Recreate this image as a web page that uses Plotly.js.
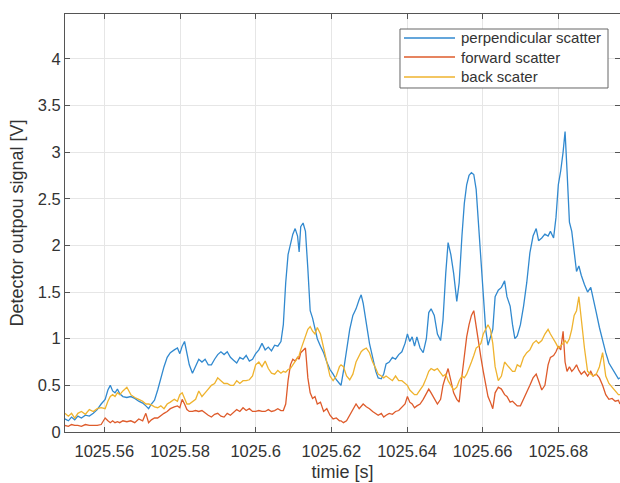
<!DOCTYPE html>
<html>
<head>
<meta charset="utf-8">
<script src="https://cdn.plot.ly/plotly-3.0.1.min.js"></script>
<style>html,body{margin:0;padding:0;background:#fff;}#chart{width:620px;height:483px;}</style>
</head>
<body>
<div id="chart"></div>
<script>
// time samples [s]
const time = [
1025.54956, 1025.55050, 1025.55133, 1025.55217, 1025.55300, 1025.55394, 1025.55499, 1025.55603, 1025.55708, 1025.55812,
1025.55916, 1025.56021, 1025.56094, 1025.56157, 1025.56219, 1025.56282, 1025.56345, 1025.56407, 1025.56491, 1025.56595,
1025.56700, 1025.56804, 1025.56909, 1025.57013, 1025.57097, 1025.57170, 1025.57243, 1025.57326, 1025.57410, 1025.57493,
1025.57577, 1025.57661, 1025.57744, 1025.57849, 1025.57932, 1025.57995, 1025.58057, 1025.58120, 1025.58183, 1025.58245,
1025.58329, 1025.58413, 1025.58496, 1025.58580, 1025.58663, 1025.58747, 1025.58830, 1025.58914, 1025.58997, 1025.59081,
1025.59165, 1025.59248, 1025.59332, 1025.59415, 1025.59499, 1025.59582, 1025.59666, 1025.59749, 1025.59833, 1025.59917,
1025.60000, 1025.60084, 1025.60167, 1025.60251, 1025.60334, 1025.60418, 1025.60501, 1025.60585, 1025.60668, 1025.60731,
1025.60794, 1025.60856, 1025.60919, 1025.60982, 1025.61044, 1025.61107, 1025.61149, 1025.61191, 1025.61253, 1025.61316,
1025.61379, 1025.61441, 1025.61504, 1025.61567, 1025.61629, 1025.61713, 1025.61796, 1025.61880, 1025.61964, 1025.62047,
1025.62131, 1025.62214, 1025.62256, 1025.62319, 1025.62402, 1025.62486, 1025.62569, 1025.62653, 1025.62736, 1025.62789,
1025.62841, 1025.62924, 1025.63008, 1025.63092, 1025.63175, 1025.63238, 1025.63321, 1025.63384, 1025.63447, 1025.63530,
1025.63614, 1025.63697, 1025.63781, 1025.63864, 1025.63948, 1025.64011, 1025.64073, 1025.64136, 1025.64199, 1025.64261,
1025.64345, 1025.64428, 1025.64512, 1025.64575, 1025.64637, 1025.64721, 1025.64804, 1025.64888, 1025.64951, 1025.65024,
1025.65086, 1025.65159, 1025.65233, 1025.65316, 1025.65379, 1025.65452, 1025.65515, 1025.65577, 1025.65640, 1025.65703,
1025.65765, 1025.65828, 1025.65891, 1025.65953, 1025.66016, 1025.66079, 1025.66141, 1025.66204, 1025.66267, 1025.66329,
1025.66413, 1025.66496, 1025.66580, 1025.66642, 1025.66726, 1025.66789, 1025.66851, 1025.66914, 1025.66998, 1025.67081,
1025.67165, 1025.67248, 1025.67332, 1025.67415, 1025.67478, 1025.67562, 1025.67645, 1025.67729, 1025.67791, 1025.67875,
1025.67938, 1025.68000, 1025.68063, 1025.68126, 1025.68178, 1025.68230, 1025.68293, 1025.68355, 1025.68418, 1025.68481,
1025.68543, 1025.68606, 1025.68690, 1025.68773, 1025.68857, 1025.68919, 1025.69003, 1025.69086, 1025.69170, 1025.69253,
1025.69337, 1025.69421, 1025.69504, 1025.69588, 1025.69629
];

// perpendicular scatter [V]
const perpendicular = [
0.14, 0.12, 0.16, 0.13, 0.17, 0.15, 0.18, 0.17, 0.20, 0.24,
0.30, 0.35, 0.45, 0.50, 0.44, 0.42, 0.46, 0.41, 0.38, 0.37,
0.38, 0.36, 0.33, 0.31, 0.28, 0.25, 0.30, 0.34, 0.45, 0.58,
0.70, 0.80, 0.85, 0.88, 0.90, 0.84, 0.92, 0.97, 0.85, 0.72,
0.63, 0.70, 0.78, 0.75, 0.78, 0.72, 0.72, 0.78, 0.83, 0.86,
0.83, 0.86, 0.80, 0.77, 0.74, 0.80, 0.78, 0.82, 0.76, 0.78,
0.84, 0.88, 0.95, 0.88, 0.91, 0.87, 0.93, 0.92, 0.97, 1.15,
1.60, 1.90, 2.00, 2.12, 2.18, 2.10, 1.93, 2.20, 2.24, 2.15,
1.75, 1.30, 1.22, 1.10, 1.00, 0.92, 0.85, 0.75, 0.67, 0.62,
0.56, 0.52, 0.50, 0.65, 0.90, 1.10, 1.25, 1.32, 1.42, 1.47,
1.38, 1.15, 0.95, 0.80, 0.65, 0.58, 0.57, 0.62, 0.73, 0.75,
0.80, 0.78, 0.83, 0.86, 0.95, 1.05, 0.97, 1.02, 0.92, 1.02,
0.90, 0.85, 1.00, 1.28, 1.32, 1.25, 1.05, 0.98, 1.20, 1.70,
2.03, 1.90, 1.70, 1.40, 1.60, 2.10, 2.45, 2.65, 2.75, 2.78,
2.76, 2.60, 2.25, 1.90, 1.50, 1.10, 0.93, 1.02, 1.10, 1.45,
1.52, 1.55, 1.62, 1.45, 1.35, 1.15, 1.00, 1.03, 1.15, 1.35,
1.60, 1.92, 2.10, 2.18, 2.05, 2.08, 2.12, 2.10, 2.15, 2.08,
2.30, 2.65, 2.80, 3.00, 3.22, 2.80, 2.25, 2.15, 1.90, 1.72,
1.78, 1.68, 1.58, 1.50, 1.55, 1.42, 1.28, 1.12, 0.98, 0.85,
0.74, 0.68, 0.62, 0.57, 0.58
];

// forward scatter [V]
const forward = [
0.07, 0.06, 0.08, 0.07, 0.07, 0.06, 0.08, 0.07, 0.07, 0.07,
0.08, 0.15, 0.12, 0.10, 0.12, 0.10, 0.11, 0.10, 0.12, 0.11,
0.12, 0.10, 0.14, 0.12, 0.20, 0.10, 0.13, 0.15, 0.15, 0.18,
0.20, 0.22, 0.25, 0.27, 0.28, 0.26, 0.35, 0.30, 0.24, 0.22,
0.22, 0.23, 0.22, 0.23, 0.20, 0.18, 0.16, 0.19, 0.20, 0.17,
0.16, 0.20, 0.18, 0.21, 0.24, 0.22, 0.26, 0.23, 0.25, 0.22,
0.22, 0.23, 0.22, 0.22, 0.24, 0.22, 0.23, 0.25, 0.23, 0.23,
0.30, 0.55, 0.72, 0.78, 0.76, 0.80, 0.78, 0.85, 0.88, 0.90,
0.58, 0.42, 0.36, 0.38, 0.30, 0.32, 0.22, 0.25, 0.18, 0.14,
0.15, 0.12, 0.12, 0.10, 0.12, 0.18, 0.25, 0.30, 0.25, 0.28,
0.30, 0.27, 0.25, 0.22, 0.20, 0.18, 0.20, 0.16, 0.18, 0.20,
0.19, 0.22, 0.23, 0.27, 0.30, 0.38, 0.32, 0.30, 0.26, 0.28,
0.30, 0.35, 0.42, 0.46, 0.42, 0.36, 0.30, 0.35, 0.50, 0.60,
0.68, 0.55, 0.42, 0.35, 0.32, 0.60, 0.85, 1.02, 1.15, 1.25,
1.30, 1.12, 0.95, 0.80, 0.65, 0.50, 0.38, 0.32, 0.25, 0.42,
0.48, 0.46, 0.40, 0.38, 0.32, 0.33, 0.30, 0.28, 0.28, 0.35,
0.42, 0.50, 0.58, 0.62, 0.55, 0.45, 0.50, 0.72, 0.80, 0.82,
0.86, 0.92, 0.88, 1.08, 0.75, 0.65, 0.70, 0.65, 0.68, 0.72,
0.66, 0.62, 0.65, 0.60, 0.65, 0.60, 0.62, 0.58, 0.50, 0.40,
0.35, 0.36, 0.33, 0.34, 0.30
];

// back scater [V]
const back = [
0.20, 0.17, 0.20, 0.15, 0.20, 0.22, 0.19, 0.24, 0.22, 0.25,
0.26, 0.25, 0.33, 0.38, 0.40, 0.38, 0.42, 0.40, 0.44, 0.48,
0.40, 0.37, 0.35, 0.33, 0.30, 0.30, 0.29, 0.27, 0.26, 0.28,
0.25, 0.30, 0.32, 0.35, 0.33, 0.40, 0.42, 0.35, 0.30, 0.30,
0.33, 0.35, 0.44, 0.38, 0.42, 0.46, 0.50, 0.52, 0.58, 0.55,
0.52, 0.52, 0.50, 0.50, 0.55, 0.52, 0.55, 0.55, 0.56, 0.60,
0.72, 0.75, 0.70, 0.76, 0.68, 0.63, 0.62, 0.66, 0.63, 0.65,
0.64, 0.67, 0.68, 0.72, 0.76, 0.80, 0.82, 0.88, 0.95, 1.02,
1.10, 1.13, 1.08, 1.05, 1.12, 1.05, 0.90, 0.72, 0.60, 0.55,
0.60, 0.70, 0.72, 0.70, 0.60, 0.56, 0.62, 0.75, 0.82, 0.86,
0.88, 0.90, 0.85, 0.75, 0.68, 0.62, 0.60, 0.58, 0.60, 0.57,
0.55, 0.60, 0.55, 0.55, 0.52, 0.50, 0.45, 0.42, 0.40, 0.40,
0.45, 0.50, 0.58, 0.65, 0.68, 0.66, 0.68, 0.63, 0.60, 0.62,
0.55, 0.50, 0.45, 0.48, 0.55, 0.60, 0.58, 0.62, 0.68, 0.75,
0.82, 0.90, 0.92, 0.95, 1.05, 1.10, 1.15, 1.10, 0.95, 0.70,
0.55, 0.60, 0.75, 0.72, 0.68, 0.65, 0.65, 0.72, 0.70, 0.80,
0.85, 0.88, 0.95, 0.98, 0.95, 0.98, 1.05, 1.10, 1.05, 1.00,
0.95, 0.90, 0.92, 0.95, 0.98, 0.95, 1.00, 1.10, 1.25, 1.30,
1.45, 1.20, 0.90, 0.65, 0.62, 0.60, 0.62, 0.70, 0.85, 0.60,
0.52, 0.48, 0.45, 0.40, 0.40
];

const seriesNames = ["perpendicular scatter", "forward scatter", "back scater"];
const xTickVals = [1025.56, 1025.58, 1025.60, 1025.62, 1025.64, 1025.66, 1025.68];
const xTickText = ["1025.56", "1025.58", "1025.6", "1025.62", "1025.64", "1025.66", "1025.68"];
const yTickVals = [0, 0.5, 1, 1.5, 2, 2.5, 3, 3.5, 4];
const yTickText = ["0", "0.5", "1", "1.5", "2", "2.5", "3", "3.5", "4"];

const colors = ["#3189cf", "#de5b2b", "#efb32e"];
const font = "Liberation Sans, Arial, sans-serif";

const traces = [perpendicular, forward, back].map((vals, i) => ({
  x: time, y: vals, type: "scatter", mode: "lines",
  name: seriesNames[i], showlegend: false,
  line: {color: colors[i], width: 1.3}
}));

// legend drawn in paper coordinates (box, sample lines, labels)
const legRows = [0.9426, 0.8971, 0.8493];
const shapes = [{
  type: "rect", xref: "paper", yref: "paper",
  x0: 0.6036, x1: 0.9784, y0: 0.823, y1: 0.9641,
  line: {color: "#666", width: 1}, fillcolor: "#fff", layer: "above"
}];
const annotations = [];
seriesNames.forEach((nm, i) => {
  shapes.push({
    type: "line", xref: "paper", yref: "paper",
    x0: 0.6108, x1: 0.7027, y0: legRows[i], y1: legRows[i],
    line: {color: colors[i], width: 1.3}, layer: "above"
  });
  annotations.push({
    xref: "paper", yref: "paper", x: 0.7099, y: legRows[i],
    xanchor: "left", yanchor: "middle", showarrow: false,
    text: nm, font: {family: font, size: 15, color: "#333"}
  });
});

const axisCommon = {
  showline: true, linecolor: "#555", linewidth: 1, mirror: "ticks",
  ticks: "inside", ticklen: 5, tickcolor: "#555",
  showgrid: true, gridcolor: "#e6e6e6", gridwidth: 1,
  zeroline: false, tickfont: {family: font, size: 16.5, color: "#333"}
};

const layout = {
  width: 620, height: 483,
  margin: {l: 65, r: 0, t: 14, b: 51},
  paper_bgcolor: "#fff", plot_bgcolor: "#fff",
  showlegend: false,
  shapes: shapes,
  annotations: annotations,
  xaxis: Object.assign({}, axisCommon, {
    range: [1025.5496, 1025.6963],
    tickmode: "array", tickvals: xTickVals, ticktext: xTickText,
    ticklabelstandoff: 4,
    title: {text: "timie [s]", font: {family: font, size: 18, color: "#333"}, standoff: 6}
  }),
  yaxis: Object.assign({}, axisCommon, {
    range: [0, 4.48],
    tickmode: "array", tickvals: yTickVals, ticktext: yTickText,
    title: {text: "Detector outpou signal [V]", font: {family: font, size: 18, color: "#333"}, standoff: 9}
  })
};

Plotly.newPlot("chart", traces, layout, {displayModeBar: false, staticPlot: true});
</script>
</body>
</html>
